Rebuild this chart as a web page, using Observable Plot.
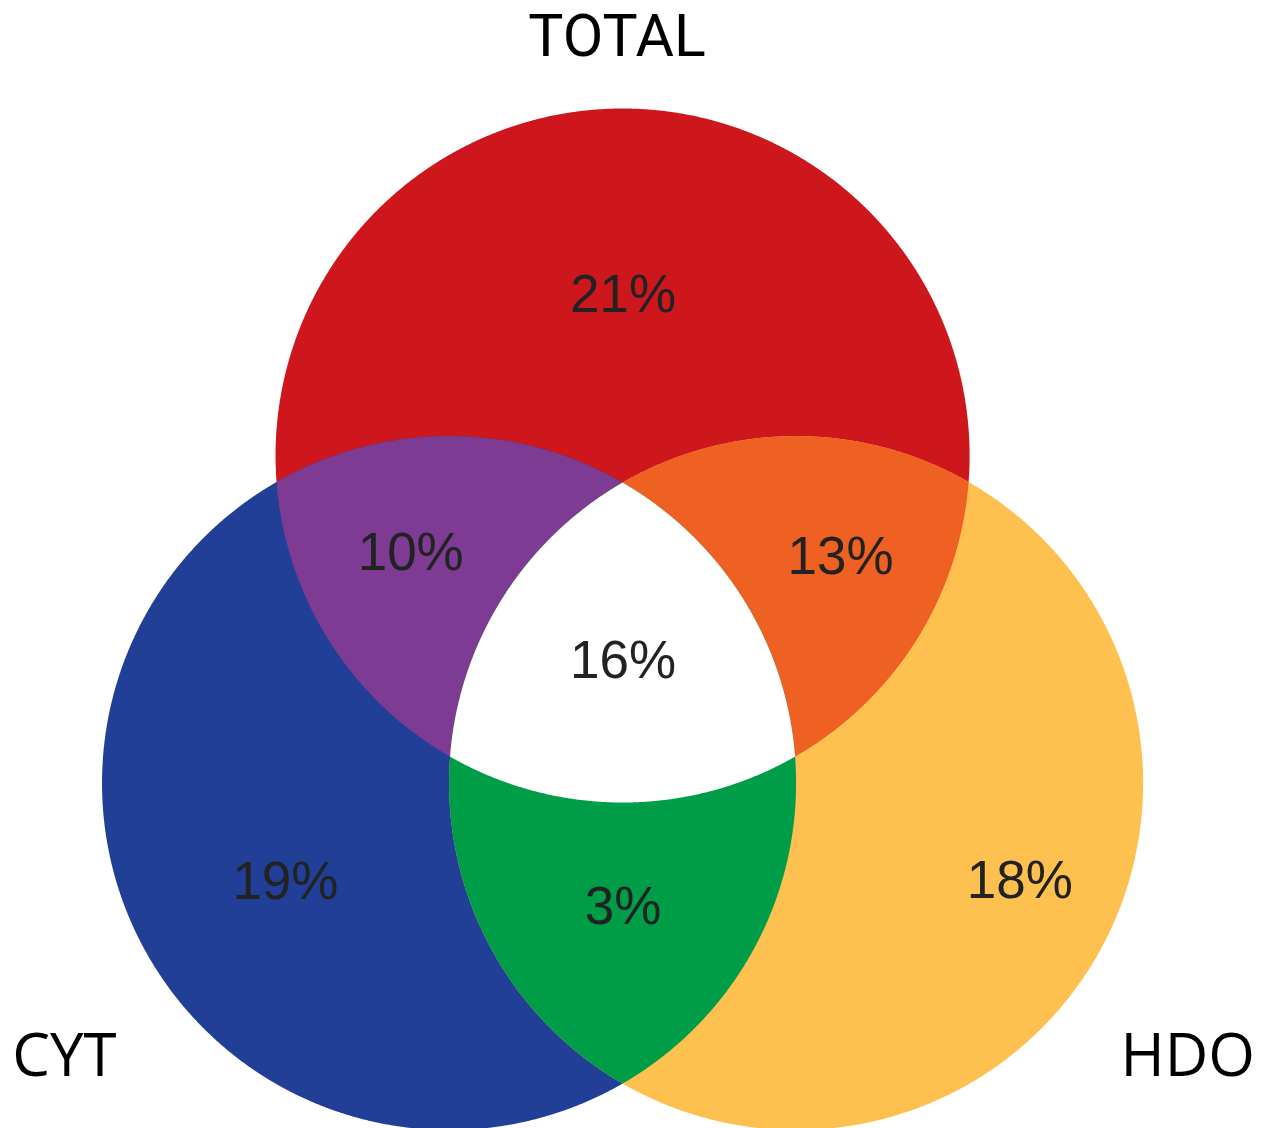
<!DOCTYPE html>
<html>
<head>
<meta charset="utf-8">
<script src="https://cdn.jsdelivr.net/npm/d3@7"></script>
<script src="https://cdn.jsdelivr.net/npm/@observablehq/plot@0.6"></script>
<style>
  html, body { margin: 0; padding: 0; background: #ffffff; }
  #title {
    width: 1267px; box-sizing: border-box; height: 70px;
    padding: 1px 33px 0 0; margin: 0; overflow: visible;
    font-family: "Roboto", "Open Sans", sans-serif; font-size: 59px; line-height: normal;
    font-weight: normal; color: #000000; text-align: center;
  }
  #chart svg { display: block; }
</style>
</head>
<body>
<div id="title"></div>
<div id="chart"></div>
<script>
// ---- Sets (circles), in Venn units where radius = 1 ----
const sets = ["TOTAL", "CYT", "HDO"];
const setCenterX = [0, -0.5, 0.5];
const setCenterY = [0, -0.944, -0.944];
const setRadius = [1, 1, 1];
// label anchors for the two lower set names (TOTAL is the title above the plot)
const setLabelX = [null, -1.61, 1.627];
const setLabelY = [null, -1.73, -1.73];

// ---- Regions: which sets they belong to, value, colour, label anchor ----
const regionMembers = [[0], [1], [2], [0, 1], [0, 2], [1, 2], [0, 1, 2]];
const regionValues = [21, 19, 18, 10, 13, 3, 16];
const regionColors = ["#cd171d", "#213f96", "#fec150", "#7d3b93", "#ee6122", "#009d48", "#ffffff"];
const regionLabelX = [0, -0.973, 1.143, -0.612, 0.627, 0, 0];
const regionLabelY = [0.465, -1.229, -1.226, -0.281, -0.290, -1.301, -0.592];

// ---- Build the (convex) intersection of a group of circles as horizontal slices ----
function shape(members) {
  const cs = members.map(i => ({x: setCenterX[i], y: setCenterY[i], r: setRadius[i]}));
  let ys = [];
  const N = 900;
  for (const c of cs) {
    for (let k = 0; k <= N; k++) ys.push(c.y + c.r * Math.sin(-Math.PI / 2 + Math.PI * k / N));
  }
  for (let a = 0; a < cs.length; a++) for (let b = a + 1; b < cs.length; b++) {
    const A = cs[a], B = cs[b];
    const dx = B.x - A.x, dy = B.y - A.y, d = Math.hypot(dx, dy);
    if (d > A.r + B.r || d < Math.abs(A.r - B.r)) continue;
    const l = (A.r * A.r - B.r * B.r + d * d) / (2 * d);
    const h = Math.sqrt(Math.max(0, A.r * A.r - l * l));
    const my = A.y + l * dy / d;
    ys.push(my + h * dx / d, my - h * dx / d);
  }
  ys.sort((p, q) => p - q);
  const out = [];
  let last = -Infinity;
  for (const y of ys) {
    if (y - last < 1e-9) continue;
    let x1 = -Infinity, x2 = Infinity, ok = true;
    for (const c of cs) {
      const t = y - c.y;
      if (Math.abs(t) > c.r + 1e-9) { ok = false; break; }
      const w = Math.sqrt(Math.max(0, c.r * c.r - t * t));
      x1 = Math.max(x1, c.x - w);
      x2 = Math.min(x2, c.x + w);
    }
    if (!ok || x1 > x2 + 1e-7) continue;
    out.push({y, x1, x2: Math.max(x1, x2)});
    last = y;
  }
  return out;
}

document.getElementById("title").textContent = sets[0];

const regionLabels = regionValues.map((v, i) => ({x: regionLabelX[i], y: regionLabelY[i], text: v + "%"}));
const setLabels = sets.map((s, i) => ({x: setLabelX[i], y: setLabelY[i], text: s})).filter(d => d.x != null);

const chart = Plot.plot({
  width: 1267,
  height: 1058,
  margin: 0,
  x: {domain: [-1.794, 1.857], axis: null},
  y: {domain: [-1.938, 1.111], axis: null},
  style: {background: "#ffffff"},
  marks: [
    ...regionMembers.map((m, i) =>
      Plot.areaX(shape(m), {y: "y", x1: "x1", x2: "x2", fill: regionColors[i]})
    ),
    Plot.text(regionLabels, {
      x: "x", y: "y", text: "text",
      fontSize: 53, fontFamily: "Liberation Sans, Arial, sans-serif", fill: "#222222"
    }),
    Plot.text(setLabels, {
      x: "x", y: "y", text: "text",
      fontSize: 60, fontFamily: "Open Sans, sans-serif", fill: "#000000"
    })
  ]
});
document.getElementById("chart").appendChild(chart);
</script>
</body>
</html>
